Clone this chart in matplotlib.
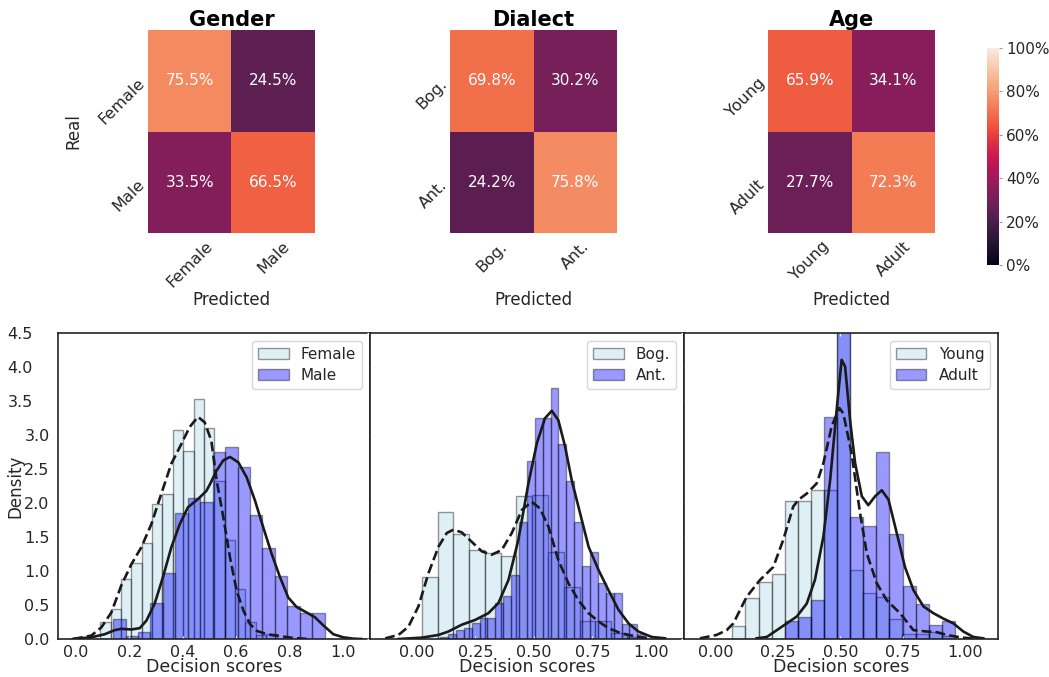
import numpy as np
import matplotlib
matplotlib.use('Agg')
import matplotlib.pyplot as plt
import matplotlib.transforms as mtransforms
import seaborn as sns
from matplotlib.patches import Patch
from matplotlib.cm import ScalarMappable
from matplotlib.colors import Normalize

# ---------------- data ----------------
gender_labels = ['Female', 'Male']
dialect_labels = ['Bog.', 'Ant.']
age_labels = ['Young', 'Adult']

gender_cm = [[75.5, 24.5], [33.5, 66.5]]
dialect_cm = [[69.8, 30.2], [24.2, 75.8]]
age_cm = [[65.9, 34.1], [27.7, 72.3]]

# histogram bins (first edge, last edge) and densities
female_range = (0.091, 0.752)
female_heights = [0.255, 0.44, 0.88, 1.12, 1.41, 1.99, 2.14, 3.07, 2.77, 3.54,
                  3.11, 2.33, 1.46, 0.74, 0.255, 0.06, 0.08]
male_range = (0.139, 0.9325)
male_heights = [0.30, 0.05, 0.11, 0.525, 0.97, 1.86, 2.08, 2.01, 2.75, 2.82,
                2.53, 1.83, 1.34, 0.93, 0.49, 0.38, 0.38]

bog_range = (0.0214, 0.965)
bog_heights = [0.92, 1.87, 1.55, 1.31, 1.27, 1.22, 2.10, 2.12, 1.28, 0.77,
               0.27, 0.27, 0.09, 0.03]
ant_range = (0.0997, 0.976)
ant_heights = [0.03, 0.07, 0.13, 0.16, 0.23, 0.31, 0.31, 0.53, 0.64, 0.94,
               1.72, 2.62, 3.25, 3.26, 3.70, 2.87, 2.32, 1.72, 1.08, 1.28,
               0.82, 0.68, 0.68, 0.22, 0.22, 0.07]

young_range = (0.0668, 0.959)
young_heights = [0.19, 0.60, 0.84, 0.96, 2.03, 2.03, 2.20, 2.20, 5.0, 1.02,
                 0.67, 0.62, 0.30, 0.07, 0.07, 0.10, 0.05]
adult_range = (0.2768, 0.959)
adult_heights = [0.265, 0.33, 0.58, 3.27, 5.5, 1.80, 1.67, 2.75, 1.54, 0.78,
                 0.52, 0.20, 0.265]

# KDE curves
female_kde_x = [-0.011, 0.0575, 0.095, 0.1325, 0.17, 0.2075, 0.245, 0.2825, 0.32,
                0.3575, 0.395, 0.426, 0.4575, 0.4825, 0.5075, 0.5275, 0.5525,
                0.5775, 0.6025, 0.6275, 0.6525, 0.6775, 0.715, 0.7525, 0.815, 0.87]
female_kde_y = [0.0, 0.05, 0.17, 0.39, 0.79, 1.10, 1.35, 1.69, 2.14, 2.58, 2.87,
                3.12, 3.27, 3.19, 2.92, 2.33, 1.79, 1.20, 0.71, 0.42, 0.22, 0.12,
                0.07, 0.05, 0.015, 0.0]
male_kde_x = [-0.011, 0.0575, 0.1075, 0.145, 0.17, 0.2075, 0.239, 0.264, 0.295,
              0.326, 0.3575, 0.389, 0.42, 0.4575, 0.489, 0.5025, 0.5275, 0.5525,
              0.5775, 0.6088, 0.64, 0.671, 0.7025, 0.734, 0.765, 0.796, 0.8275,
              0.865, 0.896, 0.9275, 0.965, 1.0025, 1.04, 1.07]
male_kde_y = [0.0, 0.025, 0.07, 0.13, 0.15, 0.14, 0.16, 0.27, 0.52, 0.91, 1.35,
              1.69, 1.94, 2.06, 2.18, 2.28, 2.48, 2.63, 2.68, 2.60, 2.38, 2.04,
              1.64, 1.25, 0.91, 0.61, 0.47, 0.39, 0.32, 0.20, 0.07, 0.025, 0.005, 0.0]

bog_kde_x = [-0.135, -0.078, -0.036, 0.007, 0.05, 0.093, 0.128, 0.157, 0.192,
             0.235, 0.278, 0.32, 0.363, 0.406, 0.449, 0.491, 0.527, 0.563, 0.605,
             0.648, 0.691, 0.734, 0.776, 0.819, 0.876, 0.933, 0.99]
bog_kde_y = [0.01, 0.06, 0.18, 0.48, 0.97, 1.36, 1.56, 1.61, 1.57, 1.43, 1.29,
             1.24, 1.31, 1.56, 1.90, 2.02, 1.92, 1.65, 1.16, 0.82, 0.57, 0.38,
             0.26, 0.16, 0.08, 0.04, 0.01]
ant_kde_x = [-0.078, 0.021, 0.093, 0.135, 0.192, 0.249, 0.306, 0.349, 0.392,
             0.434, 0.477, 0.513, 0.548, 0.577, 0.605, 0.634, 0.662, 0.698,
             0.734, 0.776, 0.819, 0.862, 0.905, 0.947, 1.004, 1.061]
ant_kde_y = [0.0, 0.02, 0.06, 0.11, 0.21, 0.28, 0.38, 0.53, 0.87, 1.46, 2.29,
             2.88, 3.25, 3.36, 3.22, 2.83, 2.34, 1.85, 1.36, 1.02, 0.72, 0.43,
             0.23, 0.11, 0.03, 0.01]

young_kde_x = [-0.063, 0.004, 0.044, 0.071, 0.124, 0.178, 0.231, 0.271, 0.311,
               0.332, 0.365, 0.405, 0.432, 0.465, 0.496, 0.512, 0.545, 0.579,
               0.606, 0.646, 0.686, 0.739, 0.793, 0.846, 0.886, 0.926, 0.98, 1.033]
young_kde_y = [0.01, 0.06, 0.13, 0.23, 0.62, 0.87, 1.06, 1.46, 1.95, 2.05, 2.14,
               2.29, 2.59, 3.13, 3.40, 3.32, 2.73, 1.85, 1.26, 0.82, 0.57, 0.38,
               0.13, 0.11, 0.10, 0.06, 0.025, 0.005]
adult_kde_x = [0.164, 0.205, 0.245, 0.285, 0.325, 0.365, 0.398, 0.432, 0.459,
               0.485, 0.505, 0.519, 0.539, 0.559, 0.586, 0.612, 0.639, 0.666,
               0.693, 0.726, 0.759, 0.793, 0.833, 0.873, 0.913, 0.953, 0.993,
               1.033, 1.073]
adult_kde_y = [0.01, 0.03, 0.13, 0.23, 0.33, 0.52, 0.87, 1.51, 2.34, 3.37, 4.11,
               4.01, 3.22, 2.59, 2.10, 1.97, 2.10, 2.19, 2.05, 1.56, 1.06, 0.72,
               0.48, 0.38, 0.30, 0.23, 0.11, 0.03, 0.01]

# ---------------- style ----------------
TXT = '#262626'
plt.rcParams['font.family'] = ['DejaVu Sans']
plt.rcParams['text.color'] = TXT
plt.rcParams['axes.labelcolor'] = TXT
plt.rcParams['xtick.color'] = TXT
plt.rcParams['ytick.color'] = TXT

fig = plt.figure(figsize=(10.49, 6.77), dpi=100)
W, H = 1049.0, 677.0


def px_axes(x0, y0, x1, y1):
    return fig.add_axes([x0 / W, 1 - y1 / H, (x1 - x0) / W, (y1 - y0) / H])


rocket = sns.color_palette('rocket', as_cmap=True)

heat_specs = [
    ('Gender', gender_cm, gender_labels, 148, 315),
    ('Dialect', dialect_cm, dialect_labels, 450, 617),
    ('Age', age_cm, age_labels, 768, 935),
]
for i, (title, cm, labs, x0, x1) in enumerate(heat_specs):
    ax = px_axes(x0, 30, x1, 233)
    vals = np.array(cm)
    annot = np.array([[f'{v:.1f}%' for v in row] for row in cm])
    sns.heatmap(vals, ax=ax, cmap=rocket, vmin=0, vmax=100, annot=annot, fmt='',
                cbar=False, annot_kws={'size': 11, 'color': 'white'},
                xticklabels=labs, yticklabels=labs)
    ax.set_title(title, fontsize=15, fontweight='bold', color='black', pad=2)
    ax.set_xticklabels(labs, rotation=45, fontsize=11.5)
    ax.set_yticklabels(labs, rotation=45, fontsize=11.5, ha='right', va='center',
                       rotation_mode='anchor')
    ax.tick_params(length=0, pad=4)
    ax.set_xlabel('Predicted', fontsize=12)
    ax.xaxis.set_label_coords(0.5, -0.285)
    if i == 0:
        ax.set_ylabel('Real', fontsize=12, labelpad=10)

cax = px_axes(987, 48, 999, 265)
sm = ScalarMappable(norm=Normalize(0, 100), cmap=rocket)
cb = fig.colorbar(sm, cax=cax)
cb.outline.set_visible(False)
cb.set_ticks([0, 20, 40, 60, 80, 100])
cb.set_ticklabels(['0%', '20%', '40%', '60%', '80%', '100%'])
cax.tick_params(labelsize=11, length=2, width=0.8, color='#999999', pad=3)

# ---------------- histograms ----------------
LIGHT = (0.678, 0.847, 0.902, 0.4)
BLUE = (0.0, 0.0, 1.0, 0.4)
EDGE = (0.0, 0.0, 0.0, 0.4)

hist_specs = [
    (58, 370, (-0.0675, 1.1025), [0, 0.2, 0.4, 0.6, 0.8, 1.0], '{:.1f}',
     ('Female', female_range, female_heights, female_kde_x, female_kde_y),
     ('Male', male_range, male_heights, male_kde_x, male_kde_y)),
    (370, 684, (-0.2, 1.142), [0, 0.25, 0.5, 0.75, 1.0], '{:.2f}',
     ('Bog.', bog_range, bog_heights, bog_kde_x, bog_kde_y),
     ('Ant.', ant_range, ant_heights, ant_kde_x, ant_kde_y)),
    (684, 998, (-0.127, 1.132), [0, 0.25, 0.5, 0.75, 1.0], '{:.2f}',
     ('Young', young_range, young_heights, young_kde_x, young_kde_y),
     ('Adult', adult_range, adult_heights, adult_kde_x, adult_kde_y)),
]

yticks = np.arange(0, 4.51, 0.5)
for j, (x0, x1, xlim, xt, xfmt, s1, s2) in enumerate(hist_specs):
    ax = px_axes(x0, 333.3, x1, 639)
    handles = []
    for (name, rng, hts, kx, ky), fc, ls in ((s1, LIGHT, '--'), (s2, BLUE, '-')):
        edges = np.linspace(rng[0], rng[1], len(hts) + 1)
        ax.bar(edges[:-1], hts, width=np.diff(edges), align='edge',
               color=fc, edgecolor=EDGE, linewidth=1.0)
        ax.plot(kx, ky, color='#1a1a1a', linestyle=ls, linewidth=1.9)
        handles.append(Patch(facecolor=fc, edgecolor=EDGE, label=name))
    ax.set_xlim(*xlim)
    ax.set_ylim(0, 4.5)
    ax.set_xticks(xt)
    ax.set_xticklabels([xfmt.format(v) for v in xt], fontsize=11.5)
    ax.set_yticks(yticks)
    ax.tick_params(axis='both', which='both', direction='inout', length=4,
                   color='white', top=True, right=True, pad=2)
    if j == 0:
        ax.set_yticklabels([f'{v:.1f}' for v in yticks], fontsize=11.5)
        ax.tick_params(axis='y', pad=4)
        for v, lab in zip(yticks, ax.get_yticklabels()):
            if v >= 3.5:
                lab.set_transform(lab.get_transform() +
                                  mtransforms.ScaledTranslation(-0.17, 0, fig.dpi_scale_trans))
        ax.set_ylabel('Density', fontsize=12)
        ax.yaxis.set_label_coords(-0.108, 0.5)
    else:
        ax.set_yticklabels([])
    ax.set_xlabel('Decision scores', fontsize=12.5, labelpad=-1)
    for sp in ax.spines.values():
        sp.set_color('#222222')
        sp.set_linewidth(1.2)
    ax.legend(handles=handles, loc='upper right', fontsize=11, frameon=True,
              framealpha=0.8, edgecolor='#cccccc', handlelength=2.0,
              borderpad=0.4, labelspacing=0.4)

fig.savefig('out.png', dpi=100)
